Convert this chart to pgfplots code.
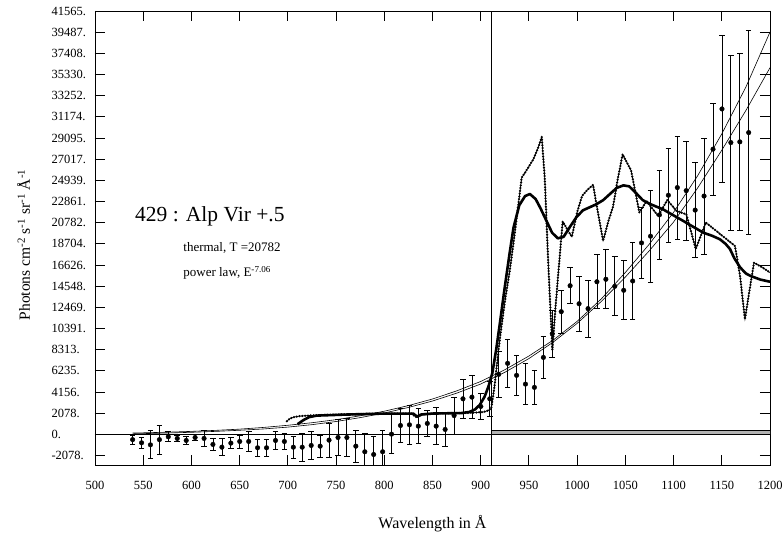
\documentclass[border=0pt]{standalone}
\usepackage{fontspec}
\setmainfont{Liberation Serif}
\usepackage{pgfplots}
\usepackage{pgfplotstable}
\pgfplotsset{compat=1.18}

\pgfplotstableread{
x y e
539.0 -510 450
548.3 -820 550
557.5 -1020 1370
566.8 -510 1420
576.0 -230 500
585.3 -390 320
594.6 -590 380
603.8 -300 330
613.1 -390 740
622.3 -980 590
631.6 -1250 850
640.9 -850 540
650.1 -690 640
659.4 -690 1000
668.6 -1310 850
677.9 -1310 820
687.2 -590 900
696.4 -690 790
705.7 -1250 1070
714.9 -1250 1360
724.2 -1080 1340
733.5 -1150 1100
742.7 -560 1670
752.0 -300 1750
761.2 -300 1900
770.5 -1150 1570
779.8 -1700 1850
789.0 -1970 1770
798.3 -1700 2100
807.5 30 1900
816.8 880 1700
826.1 945 1950
835.3 815 1700
844.6 1080 1300
853.8 815 1800
863.1 490 1700
872.4 1850 1800
881.6 3500 1900
890.9 3660 2100
900.1 2750 1300
909.4 3500 1700
918.7 5900 2300
927.9 6980 2330
937.2 5800 1930
946.4 4940 2000
955.7 4620 1680
965.0 7560 2100
974.2 9880 2300
983.5 12050 2100
992.7 14600 1770
1002.0 12830 2700
1011.3 12350 2800
1020.5 14990 2650
1029.8 15230 2900
1039.0 14540 2900
1048.3 14150 2900
1057.6 15060 3800
1066.8 18800 3500
1076.1 19460 4500
1085.3 21550 4400
1094.6 23480 4600
1103.9 24230 5040
1113.1 23930 4860
1122.4 22020 4670
1131.6 23400 5700
1140.9 28000 4500
1150.2 31950 7200
1159.4 28650 8580
1168.7 28720 8680
1177.9 29630 10000
}\obsdata

\pgfplotstableread{
x y
539 140
550 160
575 220
600 300
625 400
650 520
675 690
700 900
725 1150
750 1450
775 1830
800 2280
825 2830
850 3480
875 4270
900 5200
925 6350
950 7700
975 9250
1000 11100
1025 13300
1050 15900
1075 18700
1100 21800
1125 25400
1150 29500
1175 34100
1200 39500
}\plawdata

\pgfplotstableread{
x y
539 60
550 80
575 140
600 210
625 300
650 410
675 540
700 720
725 960
750 1270
775 1650
800 2100
825 2650
850 3280
875 4050
900 4950
925 6100
950 7450
975 9050
1000 10900
1025 13050
1050 15450
1075 18050
1100 20850
1125 24200
1150 27900
1175 31800
1200 36000
}\thermdata

\pgfplotstableread{
x y
710 1000
716 1400
722 1700
730 1850
760 1950
800 2050
830 2050
834 1750
838 1950
850 2050
880 2100
888 2200
894 2450
899 2900
904 3700
908 4700
912 6000
916 8300
920 11000
925 14500
930 17800
934 20300
940 22500
946 23400
951 23600
957 23100
962 22200
968 21000
974 19800
980 19250
986 19400
992 20300
999 21300
1006 22000
1013 22300
1020 22600
1027 23000
1034 23600
1041 24200
1048 24450
1054 24350
1060 23800
1068 23000
1076 22600
1089 22100
1100 21500
1110 20960
1120 20400
1131 19800
1140 19500
1148 19160
1154 18700
1158.5 18200
1163 17300
1169 16400
1175 15800
1180 15550
1190 15200
1200 14990
}\smoothdata

\pgfplotstableread{
x y
699 1300
702 1550
706 1700
712 1800
725 1870
750 1950
775 2000
800 2050
828 2050
834 1650
840 2000
860 2080
880 2100
895 2150
903 2200
908 2350
911 2600
914 4500
917 7000
920 9500
925 13000
930 16000
935 19500
942.5 25200
948 26000
954.5 27000
959 28000
963.3 29200
966.5 25000
970 16900
974.3 8300
978 13000
981.5 17000
985 20900
990 20100
994.5 19400
1000 21800
1005 23400
1010.5 24000
1016.5 24500
1021.5 21800
1026.9 19000
1032 20800
1037.3 22400
1042 25000
1047.2 27500
1051.5 26700
1056 25900
1064.5 21800
1072 22900
1084 21450
1093.5 23000
1103 21950
1113.3 21600
1123 18200
1133.4 20800
1144 20000
1155 19160
1163.7 18500
1169 15500
1174 11300
1178.5 14000
1183.4 16860
1192 16400
1200 15880
}\modeldata

\begin{document}
\begin{tikzpicture}
\useasboundingbox (-95pt,-68pt) rectangle (688pt,465pt);
\begin{axis}[
  at={(0pt,0pt)}, anchor=south west,
  scale only axis, width=675pt, height=454pt,
  xmin=500, xmax=1200, ymin=-3000, ymax=41565,
  unbounded coords=jump,
  xtick={500,550,600,650,700,750,800,850,900,950,1000,1050,1100,1150,1200},
  xticklabels={500,550,600,650,700,750,800,850,900,950,1000,1050,1100,1150,1200},
  ytick={-2078.25,0,2078.25,4156.5,6234.75,8313,10391.25,12469.5,14547.75,16626,18704.25,20782.5,22860.75,24939,27017.25,29095.5,31173.75,33252,35330.25,37408.5,39486.75,41565},
  yticklabels={-2078.,0.,2078.,4156.,6235.,8313.,10391.,12469.,14548.,16626.,18704.,20782.,22861.,24939.,27017.,29095.,31174.,33252.,35330.,37408.,39487.,41565.},
  major tick length=10pt,
  tick style={black, line width=0.9pt},
  axis line style={line width=0.7pt},
  tick label style={font=\fontsize{12.5}{14}\selectfont},
  yticklabel style={anchor=west, xshift=-47pt},
  xticklabel style={anchor=base, yshift=-24pt},
  every axis x label/.style={at={(axis description cs:0.5,0)}, anchor=base, yshift=-63pt, font=\fontsize{16}{18}\selectfont},
  every axis y label/.style={at={([xshift=-65pt]axis description cs:0,0.485)}, rotate=90, anchor=base, font=\fontsize{15.5}{18}\selectfont},
  xlabel={Wavelength in Å},
  ylabel={Photons cm\textsuperscript{-2} s\textsuperscript{-1} sr\textsuperscript{-1} Å\textsuperscript{-1}},
]
% inward tick marks on all four sides, as short segments
\addplot[black, line width=0.9pt, mark=none] table[row sep=\\] {
x y\\
500 -2078.25\\ 510.4 -2078.25\\ nan nan\\ 1189.6 -2078.25\\ 1200 -2078.25\\ nan nan\\
500 2078.25\\ 510.4 2078.25\\ nan nan\\ 1189.6 2078.25\\ 1200 2078.25\\ nan nan\\
500 4156.5\\ 510.4 4156.5\\ nan nan\\ 1189.6 4156.5\\ 1200 4156.5\\ nan nan\\
500 6234.75\\ 510.4 6234.75\\ nan nan\\ 1189.6 6234.75\\ 1200 6234.75\\ nan nan\\
500 8313\\ 510.4 8313\\ nan nan\\ 1189.6 8313\\ 1200 8313\\ nan nan\\
500 10391.25\\ 510.4 10391.25\\ nan nan\\ 1189.6 10391.25\\ 1200 10391.25\\ nan nan\\
500 12469.5\\ 510.4 12469.5\\ nan nan\\ 1189.6 12469.5\\ 1200 12469.5\\ nan nan\\
500 14547.75\\ 510.4 14547.75\\ nan nan\\ 1189.6 14547.75\\ 1200 14547.75\\ nan nan\\
500 16626\\ 510.4 16626\\ nan nan\\ 1189.6 16626\\ 1200 16626\\ nan nan\\
500 18704.25\\ 510.4 18704.25\\ nan nan\\ 1189.6 18704.25\\ 1200 18704.25\\ nan nan\\
500 20782.5\\ 510.4 20782.5\\ nan nan\\ 1189.6 20782.5\\ 1200 20782.5\\ nan nan\\
500 22860.75\\ 510.4 22860.75\\ nan nan\\ 1189.6 22860.75\\ 1200 22860.75\\ nan nan\\
500 24939\\ 510.4 24939\\ nan nan\\ 1189.6 24939\\ 1200 24939\\ nan nan\\
500 27017.25\\ 510.4 27017.25\\ nan nan\\ 1189.6 27017.25\\ 1200 27017.25\\ nan nan\\
500 29095.5\\ 510.4 29095.5\\ nan nan\\ 1189.6 29095.5\\ 1200 29095.5\\ nan nan\\
500 31173.75\\ 510.4 31173.75\\ nan nan\\ 1189.6 31173.75\\ 1200 31173.75\\ nan nan\\
500 33252\\ 510.4 33252\\ nan nan\\ 1189.6 33252\\ 1200 33252\\ nan nan\\
500 35330.25\\ 510.4 35330.25\\ nan nan\\ 1189.6 35330.25\\ 1200 35330.25\\ nan nan\\
500 37408.5\\ 510.4 37408.5\\ nan nan\\ 1189.6 37408.5\\ 1200 37408.5\\ nan nan\\
500 39486.75\\ 510.4 39486.75\\ nan nan\\ 1189.6 39486.75\\ 1200 39486.75\\ nan nan\\
550 -3000\\ 550 -2018\\ nan nan\\ 550 40583\\ 550 41565\\ nan nan\\
600 -3000\\ 600 -2018\\ nan nan\\ 600 40583\\ 600 41565\\ nan nan\\
650 -3000\\ 650 -2018\\ nan nan\\ 650 40583\\ 650 41565\\ nan nan\\
700 -3000\\ 700 -2018\\ nan nan\\ 700 40583\\ 700 41565\\ nan nan\\
750 -3000\\ 750 -2018\\ nan nan\\ 750 40583\\ 750 41565\\ nan nan\\
800 -3000\\ 800 -2018\\ nan nan\\ 800 40583\\ 800 41565\\ nan nan\\
850 -3000\\ 850 -2018\\ nan nan\\ 850 40583\\ 850 41565\\ nan nan\\
900 -3000\\ 900 -2018\\ nan nan\\ 900 40583\\ 900 41565\\ nan nan\\
950 -3000\\ 950 -2018\\ nan nan\\ 950 40583\\ 950 41565\\ nan nan\\
1000 -3000\\ 1000 -2018\\ nan nan\\ 1000 40583\\ 1000 41565\\ nan nan\\
1050 -3000\\ 1050 -2018\\ nan nan\\ 1050 40583\\ 1050 41565\\ nan nan\\
1100 -3000\\ 1100 -2018\\ nan nan\\ 1100 40583\\ 1100 41565\\ nan nan\\
1150 -3000\\ 1150 -2018\\ nan nan\\ 1150 40583\\ 1150 41565\\ nan nan\\
};
% zero line, Lyman edge and bar
\addplot[black, line width=0.6pt] coordinates {(500,0) (1200,0)};
\addplot[fill=gray!60, draw=black, line width=0.6pt] coordinates {(911,0) (911,400) (1200,400) (1200,0) (911,0)};
\addplot[black, line width=1.3pt] coordinates {(911,-3000) (911,41565)};
% fits
\addplot[black, line width=0.6pt] table[x=x,y=y] {\plawdata};
\addplot[black, line width=0.6pt] table[x=x,y=y] {\thermdata};
% smoothed model
\addplot[black, line width=2.6pt, line join=round] table[x=x,y=y] {\smoothdata};
% model with beads
\addplot[black, line width=0.6pt, postaction={draw, line width=2.5pt, line cap=round, dash pattern=on 0pt off 2.8pt}] table[x=x,y=y] {\modeldata};
% data
\addplot[black, only marks, mark=*, mark size=2.3pt,
  error bars/.cd, y dir=both, y explicit,
  error bar style={line width=0.8pt},
  error mark options={rotate=90, mark size=2.8pt, line width=0.8pt}]
  table[x=x, y=y, y error=e] {\obsdata};
% annotations
\node[anchor=base west, font=\fontsize{21.5}{24}\selectfont] at (axis cs:538,20950) {429 : Alp Vir +.5};
\node[anchor=base west, font=\fontsize{13}{15}\selectfont] at (axis cs:588,17990) {thermal, T =20782};
\node[anchor=base west, font=\fontsize{13}{15}\selectfont] at (axis cs:588,15470) {power law, E\textsuperscript{-7.06}};
\end{axis}
\end{tikzpicture}
\end{document}
